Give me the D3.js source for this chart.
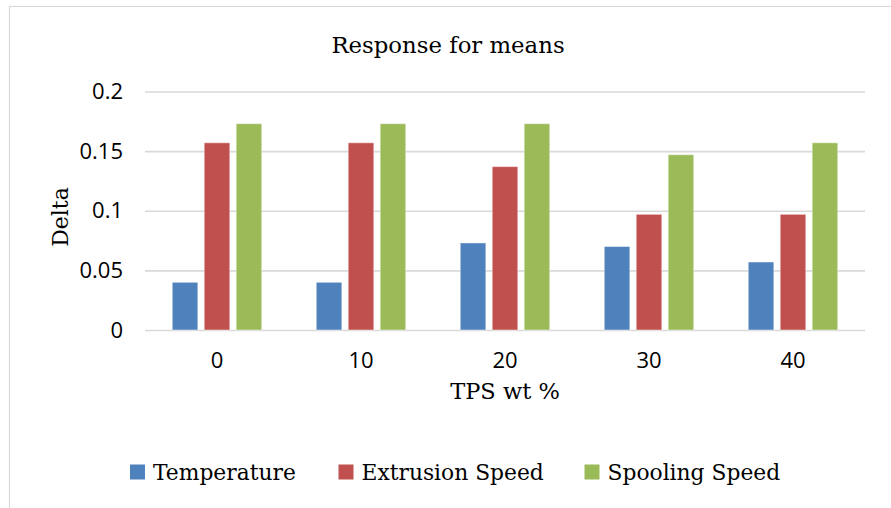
<!DOCTYPE html>
<html>
<head>
<meta charset="utf-8">
<script src="https://cdn.jsdelivr.net/npm/d3@7"></script>
<style>
  body { margin: 0; background: #fff; }
  .serif { font-family: "DejaVu Serif", serif; fill: #000; }
</style>
</head>
<body>
<div id="canvas"></div>
<script>
const categories = ["0", "10", "20", "30", "40"]
const seriesNames = ["Temperature", "Extrusion Speed", "Spooling Speed"]
const temperature = [0.04, 0.04, 0.073, 0.07, 0.057]
const extrusionSpeed = [0.157, 0.157, 0.137, 0.097, 0.097]
const spoolingSpeed = [0.173, 0.173, 0.173, 0.147, 0.157]
const yTicks = [0, 0.05, 0.1, 0.15, 0.2]
const colors = ["#4F81BD", "#C0504D", "#9BBB59"]

const values = [temperature, extrusionSpeed, spoolingSpeed]
const data = categories.map((c, i) => ({
    cat: c,
    vals: seriesNames.map((s, j) => ({ name: s, value: values[j][i] }))
}))

const width = 891
const height = 508
const margin = { top: 91.5, left: 145, bottom: 178, right: 26 }
const iwidth = width - margin.left - margin.right
const iheight = height - margin.top - margin.bottom

const svg = d3.select("#canvas").append("svg")
    .attr("width", width)
    .attr("height", height)

// chart frame
svg.append("rect")
    .attr("x", 9.5)
    .attr("y", 6.5)
    .attr("width", 900)
    .attr("height", 520)
    .attr("fill", "none")
    .attr("stroke", "#D9D9D9")
    .attr("stroke-width", 1.2)

const g = svg.append("g")
    .attr("transform", `translate(${margin.left}, ${margin.top})`)

const y = d3.scaleLinear()
    .domain([0, 0.2])
    .range([iheight, 0])

const x0 = d3.scaleBand()
    .domain(categories)
    .range([0, iwidth])

const groupPad = (x0.bandwidth() - 89.5) / 2
const x1 = d3.scaleBand()
    .domain(seriesNames)
    .range([groupPad, x0.bandwidth() - groupPad])
    .paddingInner(0.2)

// gridlines + y labels
const yAxis = g.append("g")
    .call(d3.axisLeft(y).tickValues(yTicks).tickSize(-iwidth).tickPadding(22)
        .tickFormat(d => d === 0 ? "0" : String(d)))
    .attr("font-family", "'Open Sans', sans-serif")
    .attr("font-size", 22)
yAxis.select(".domain").remove()
yAxis.selectAll(".tick line").attr("stroke", "#D9D9D9").attr("stroke-width", 1.6)
yAxis.selectAll(".tick text").attr("fill", "#000")

// bars
const groups = g.selectAll(".grp").data(data)
    .enter().append("g")
    .attr("class", "grp")
    .attr("transform", d => `translate(${x0(d.cat)}, 0)`)

groups.selectAll("rect").data(d => d.vals)
    .enter().append("rect")
    .attr("x", d => x1(d.name))
    .attr("y", d => y(d.value))
    .attr("width", x1.bandwidth())
    .attr("height", d => iheight - y(d.value))
    .attr("fill", (d, i) => colors[i])
    .attr("stroke", "#fff")
    .attr("stroke-opacity", 0.45)
    .attr("stroke-width", 1)

// x axis labels
const xAxis = g.append("g")
    .attr("transform", `translate(0, ${iheight})`)
    .call(d3.axisBottom(x0).tickSize(0).tickPadding(22))
    .attr("font-family", "'Open Sans', sans-serif")
    .attr("font-size", 22)
xAxis.select(".domain").remove()
xAxis.selectAll(".tick text").attr("fill", "#000")

// titles
svg.append("text")
    .attr("class", "serif")
    .attr("x", 448)
    .attr("y", 53)
    .attr("text-anchor", "middle")
    .style("font-size", "22.8px")
    .text("Response for means")

svg.append("text")
    .attr("class", "serif")
    .attr("transform", "translate(68, 217) rotate(-90)")
    .attr("text-anchor", "middle")
    .style("font-size", "22px")
    .text("Delta")

svg.append("text")
    .attr("class", "serif")
    .attr("x", 505)
    .attr("y", 399)
    .attr("text-anchor", "middle")
    .style("font-size", "22.5px")
    .text("TPS wt %")

// legend
const legendX = [130, 338.5, 584.5]
const legend = svg.selectAll(".leg").data(seriesNames)
    .enter().append("g")
    .attr("class", "leg")
    .attr("transform", (d, i) => `translate(${legendX[i]}, 0)`)
legend.append("rect")
    .attr("x", 0)
    .attr("y", 464.5)
    .attr("width", 15)
    .attr("height", 15)
    .attr("fill", (d, i) => colors[i])
legend.append("text")
    .attr("class", "serif")
    .attr("x", 23)
    .attr("y", 480)
    .style("font-size", "21.8px")
    .text(d => d)
</script>
</body>
</html>
